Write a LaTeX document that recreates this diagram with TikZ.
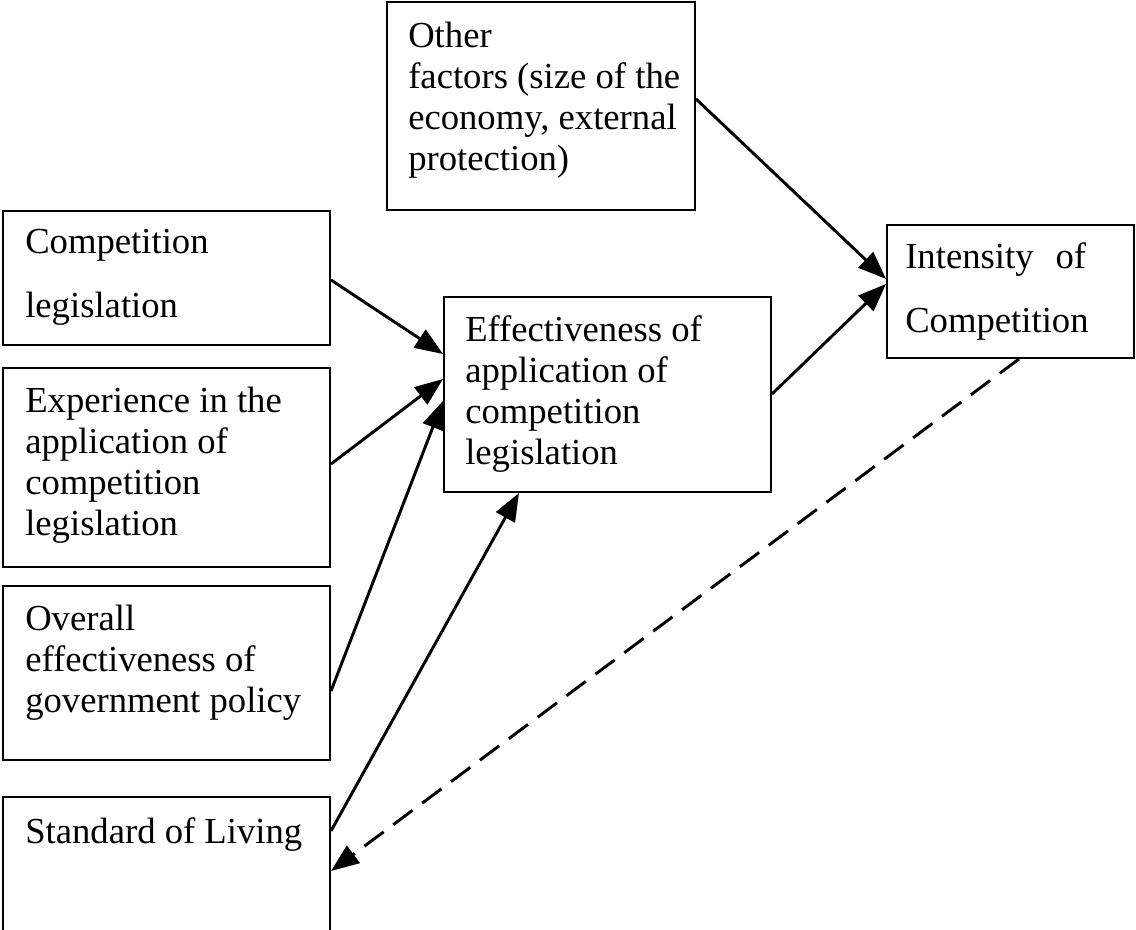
\documentclass[tikz,border=0pt]{standalone}
\usepackage{fontspec}
\setmainfont{Liberation Serif}
\usetikzlibrary{arrows.meta,fit,calc}
\begin{document}
\begin{tikzpicture}[x=0.75pt,y=-0.75pt,
  box/.style={draw, line width=1.5pt, inner sep=0pt},
  txt/.style={anchor=north west, inner sep=0pt, align=left, font=\fontsize{27.5}{30.75}\selectfont},
  conn/.style={line width=2.2pt, -{Triangle[length=21pt,width=16pt]}},
  dconn/.style={conn, dash pattern=on 18pt off 9pt}]
\useasboundingbox (0,0) rectangle (1136,930);
% boxes
\node[box, fit={(387,2)(695,210)}] (other) {};
\node[box, fit={(3,211)(330,345)}] (comp) {};
\node[box, fit={(3,368)(330,567)}] (exper) {};
\node[box, fit={(3,586)(330,760)}] (overall) {};
\node[box, fit={(3,797)(330,950)}] (std) {};
\node[box, fit={(444,297)(771,492)}] (eff) {};
\node[box, fit={(887,225)(1134,358)}] (inten) {};
% texts
\node[txt] (other-t) at (408,22) {Other\\factors (size of the\\economy, external\\protection)};
\node[txt] (comp-t) at (25,229) {Competition\\[17.25pt]legislation};
\node[txt] (exper-t) at (25,387) {Experience in the\\application of\\competition\\legislation};
\node[txt] (overall-t) at (25,605) {Overall\\effectiveness of\\government policy};
\node[txt] (std-t) at (25,817) {Standard of Living};
\node[txt] (eff-t) at (465,315) {Effectiveness of\\application of\\competition\\legislation};
\node[txt] (inten-t) at (905,242) {Intensity\hspace{0.35em} of\\[17.25pt]Competition};
% connectors
\draw[conn] ($(comp.north east)+(0,70)$) -- ($(eff.north west)+(0,58)$);
\draw[conn] ($(exper.north east)+(0,97)$) -- ($(eff.north west)+(0,83)$);
\draw[conn] ($(overall.north east)+(0,106)$) -- ($(eff.north west)+(0,105)$);
\draw[conn] ($(std.north east)+(0,35)$) -- ($(eff.south west)+(76,0)$);
\draw[conn] ($(eff.north east)+(0,98)$) -- ($(inten.north west)+(0,60)$);
\draw[conn] ($(other.north east)+(0,98)$) -- ($(inten.north west)+(0,55)$);
\draw[dconn] ($(inten.south west)+(133,0)$) -- ($(std.north east)+(0,75)$);
\end{tikzpicture}
\end{document}
